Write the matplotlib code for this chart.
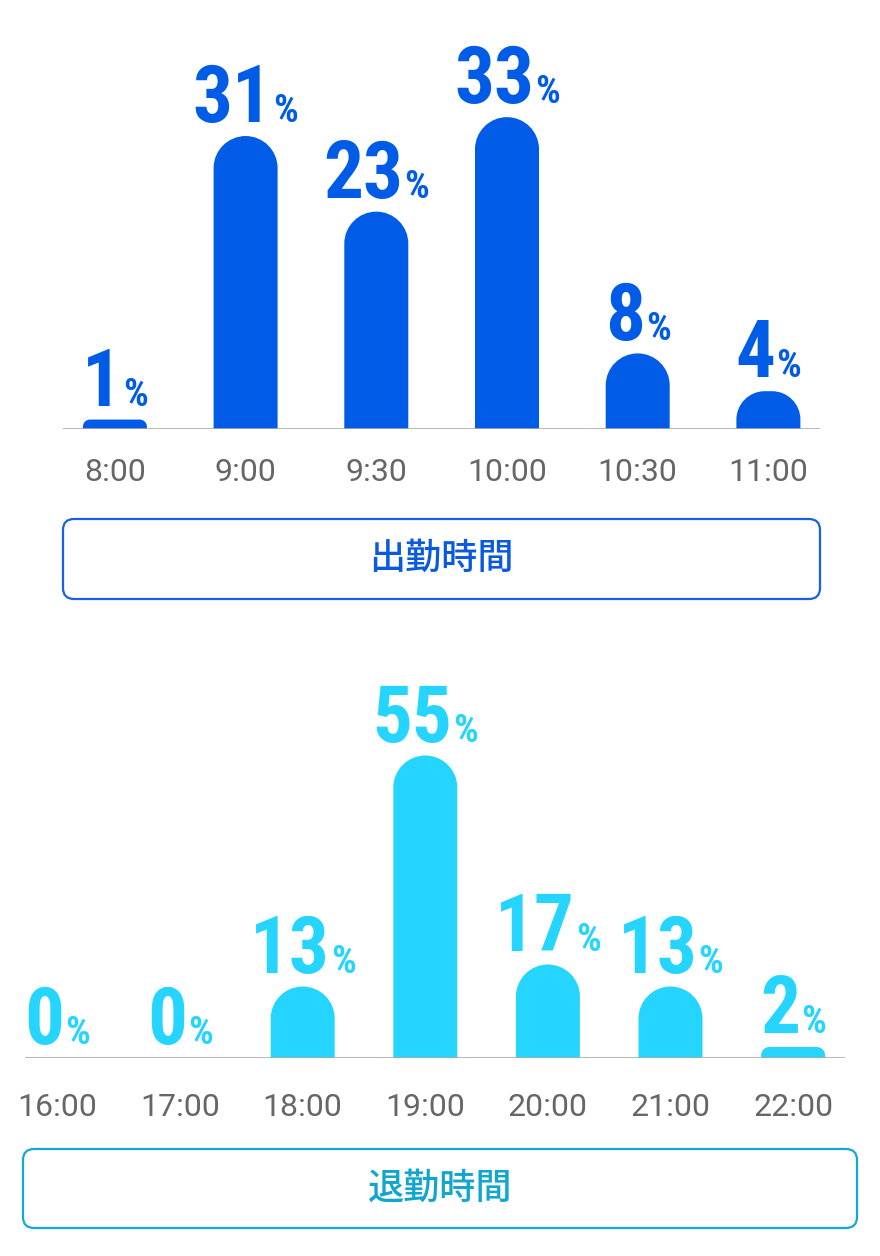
import matplotlib
matplotlib.use("Agg")
import matplotlib.pyplot as plt
from matplotlib.path import Path
from matplotlib.patches import PathPatch, FancyBboxPatch
from matplotlib.transforms import IdentityTransform

# dati
orari_in = ["8:00", "9:00", "9:30", "10:00", "10:30", "11:00"]
perc_in = [1, 31, 23, 33, 8, 4]
titolo_in = "出勤時間"

orari_out = ["16:00", "17:00", "18:00", "19:00", "20:00", "21:00", "22:00"]
perc_out = [0, 0, 13, 55, 17, 13, 2]
titolo_out = "退勤時間"

W, H = 880, 1256
BLU = "#005ce6"
CIANO = "#26d5ff"
GRIGIO = "#666666"
NUM_FONT = ["Roboto Condensed", "Roboto", "DejaVu Sans"]

fig = plt.figure(figsize=(W / 100, H / 100), dpi=100)


def barra_tonda(ax, x, h, w, sx, sy, colore):
    # barra con la cima arrotondata (raggio in pixel)
    if h <= 0:
        return
    r = min(32.0, 0.75 * h * sy)
    rx = r / sx
    ry = r / sy
    k = 0.5523
    x0 = x - w / 2
    x1 = x + w / 2
    verts = [(x0, 0), (x0, h - ry),
             (x0, h - ry + k * ry), (x0 + rx - k * rx, h), (x0 + rx, h),
             (x1 - rx, h),
             (x1 - rx + k * rx, h), (x1, h - ry + k * ry), (x1, h - ry),
             (x1, 0), (x0, 0)]
    codes = [Path.MOVETO, Path.LINETO,
             Path.CURVE4, Path.CURVE4, Path.CURVE4,
             Path.LINETO,
             Path.CURVE4, Path.CURVE4, Path.CURVE4,
             Path.LINETO, Path.CLOSEPOLY]
    ax.add_patch(PathPatch(Path(verts, codes), facecolor=colore,
                           edgecolor="none", zorder=2))


def grafico(orari, perc, colore, base, sinistra, destra, x0px, passo,
            scala, top_px, gap_tick):
    # asse in coordinate pixel della figura
    ax = fig.add_axes([sinistra / W, 1 - base / H,
                       (destra - sinistra) / W, (base - top_px) / H])
    ax.set_xlim((sinistra - x0px) / passo, (destra - x0px) / passo)
    ax.set_ylim(0, (base - top_px) / scala)
    ax.axis("off")
    ax.axhline(0, color="#aaaaaa", lw=1.2, zorder=3)
    larg = 64 / passo
    renderer = fig.canvas.get_renderer()
    dy = 10
    sp = 1
    for i, (lab, v) in enumerate(zip(orari, perc)):
        barra_tonda(ax, i, v, larg, passo, scala, colore)
        # etichetta valore: numero grande + % piccolo
        t1 = ax.annotate(str(v), (i, v), xytext=(0, dy), textcoords="offset points",
                         ha="left", va="baseline", fontsize=57, fontweight="bold",
                         family=NUM_FONT, color=colore)
        t2 = ax.annotate("%", (i, v), xytext=(0, dy), textcoords="offset points",
                         ha="left", va="baseline", fontsize=28, fontweight="bold",
                         family=NUM_FONT, color=colore)
        w1 = t1.get_window_extent(renderer).width
        w2 = t2.get_window_extent(renderer).width
        tot = w1 + sp + w2
        t1.set_position((-tot / 2 * 0.72, dy))
        t2.set_position(((-tot / 2 + w1 + sp) * 0.72, dy))
        ax.annotate(lab, (i, 0), xytext=(0, -gap_tick * 0.72), textcoords="offset points",
                    ha="center", va="baseline", fontsize=23, family="Roboto",
                    color=GRIGIO)
    return ax


def riquadro(testo, x0, y0, x1, y1, bordo, col_testo):
    box = FancyBboxPatch((x0, H - y1), x1 - x0, y1 - y0,
                         boxstyle="round,pad=0,rounding_size=11",
                         facecolor="white", edgecolor=bordo, linewidth=1.6,
                         transform=IdentityTransform())
    fig.add_artist(box)
    fig.text((x0 + x1) / 2 / W, 1 - (y0 + y1) / 2 / H, testo, ha="center",
             va="center", fontsize=26, color=col_testo,
             family=["Noto Sans CJK JP", "DejaVu Sans"], fontweight="medium")


grafico(orari_in, perc_in, BLU, 429, 63, 820, 114.9, 130.7, 9.45, 10, 52)
riquadro(titolo_in, 63, 519, 820, 599, "#1a5fe6", "#0a5ae0")

grafico(orari_out, perc_out, CIANO, 1058, 25, 845, 57.5, 122.6, 5.5, 640, 58)
riquadro(titolo_out, 23, 1149, 857, 1228, "#12aad4", "#12a6cf")

fig.savefig("out.png", dpi=100)
